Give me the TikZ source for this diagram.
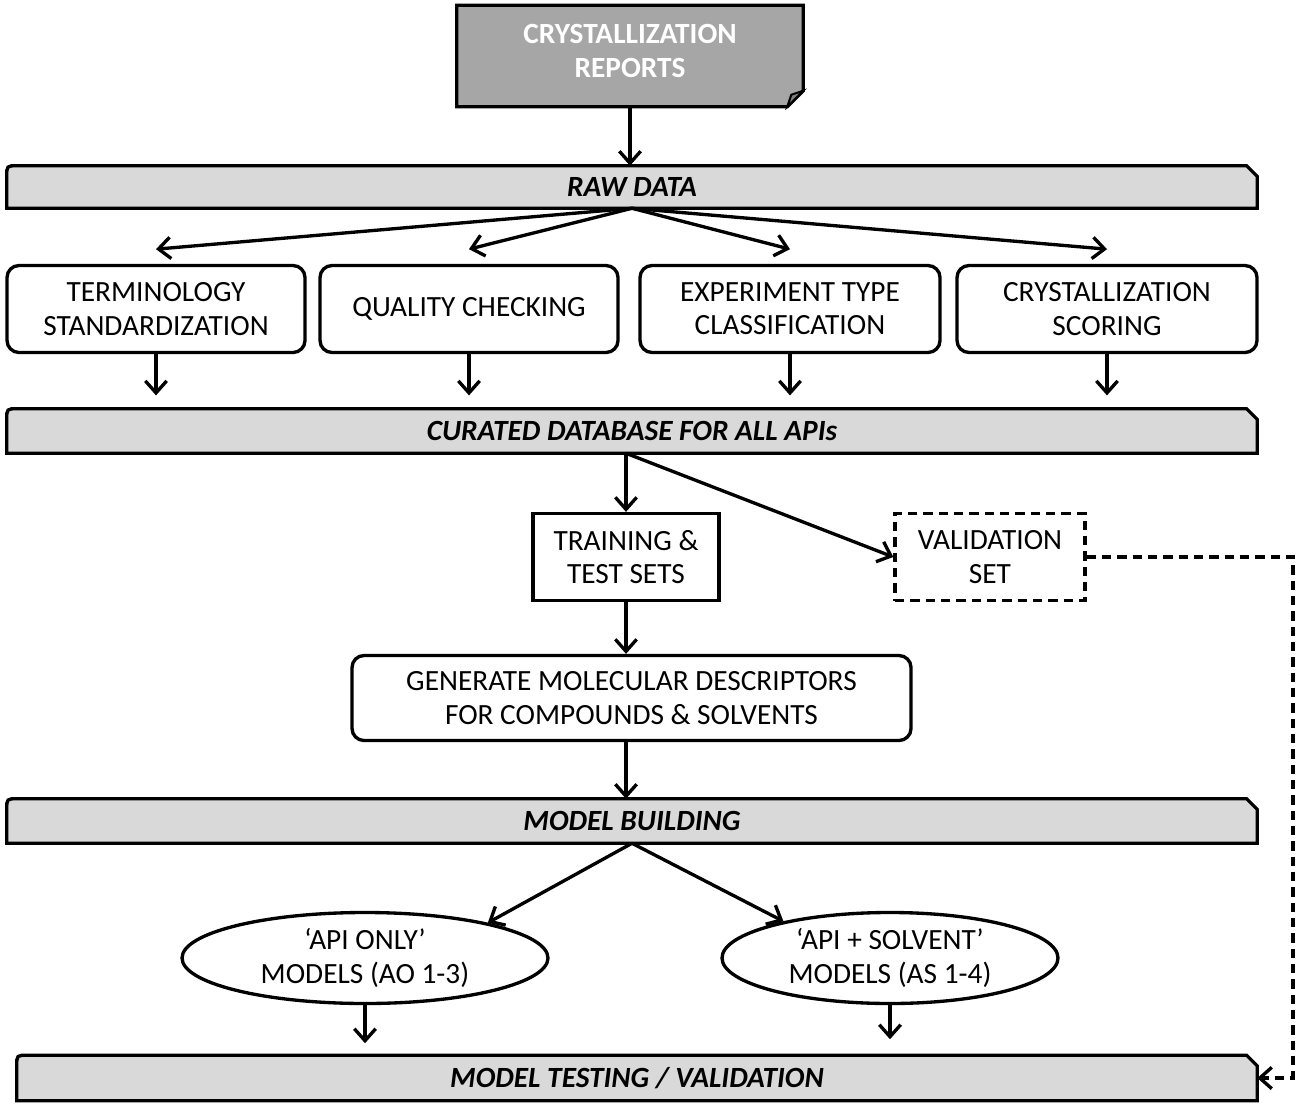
\documentclass[tikz,border=0pt]{standalone}
\usepackage{fontspec}
\setmainfont{Carlito}
\usetikzlibrary{arrows.meta,shapes.geometric,backgrounds,calc}
\definecolor{barfill}{HTML}{D9D9D9}
\definecolor{docfill}{HTML}{A6A6A6}
\definecolor{flapfill}{HTML}{808080}
\tikzset{
  base/.style={font=\fontsize{22}{25}\selectfont, align=center, inner sep=0pt},
  rbox/.style={base, draw, line width=2.5pt, rounded corners=9pt},
  sbox/.style={base, draw, line width=2.5pt},
  dbox/.style={base, draw, line width=2.5pt, dash pattern=on 7pt off 4.5pt},
  ell/.style={base, draw, line width=2.5pt, ellipse},
  barnode/.style={base, font=\fontsize{22}{25}\selectfont\bfseries\itshape},
  docnode/.style={base, font=\fontsize{22}{25}\selectfont\bfseries, text=white},
  barline/.style={draw, line width=2.5pt, fill=barfill, line join=miter},
  conn/.style={line width=2.5pt, -{Straight Barb[length=9pt,width=16pt]}},
  dconn/.style={conn, dash pattern=on 7pt off 4.5pt},
}
\newcommand{\barshape}[1]{%
  \path[barline] (#1.south west) -- ([yshift=-8pt]#1.north west)
    .. controls (#1.north west) .. ([xshift=8pt]#1.north west)
    -- ([xshift=-8pt]#1.north east) -- ([yshift=-8pt]#1.north east)
    -- (#1.south east) -- cycle;}
\begin{document}
\begin{tikzpicture}[x=0.75pt,y=-0.75pt]
\useasboundingbox (0,0) rectangle (1306,1106);

% top document
\node[docnode, minimum width=259.5pt, minimum height=68.25pt] (doc) at (630,51) {CRYSTALLIZATION\\REPORTS};

% bars
\node[barnode, minimum width=937.5pt, minimum height=31.5pt] (raw) at (632,187) {RAW DATA};
\node[barnode, minimum width=937.5pt, minimum height=33pt] (cur) at (632,431) {CURATED DATABASE FOR ALL APIs};
\node[barnode, minimum width=937.5pt, minimum height=33pt] (mb) at (632,821) {MODEL BUILDING};
\node[barnode, minimum width=930pt, minimum height=33.75pt] (test) at (637,1078) {MODEL TESTING / VALIDATION};

\begin{scope}[on background layer]
  \path[draw, line width=2.5pt, fill=docfill, line join=miter]
    (doc.north west) -- (doc.north east) -- ([yshift=4.5pt]doc.south east)
    -- ([xshift=-12pt,yshift=-7.5pt]doc.south east) -- ([yshift=-7.5pt]doc.south west) -- cycle;
  \path[draw, line width=1.5pt, fill=flapfill]
    ([yshift=4.5pt]doc.south east) -- ([xshift=-12pt,yshift=-7.5pt]doc.south east)
    -- ([xshift=-9pt,yshift=1.5pt]doc.south east) -- cycle;
  \barshape{raw}
  \barshape{cur}
  \barshape{mb}
  \barshape{test}
\end{scope}

% four process boxes
\node[rbox, minimum width=223.5pt, minimum height=65.25pt] (b1) at (156,309) {TERMINOLOGY\\STANDARDIZATION};
\node[rbox, minimum width=223.5pt, minimum height=65.25pt] (b2) at (469,309) {QUALITY CHECKING};
\node[rbox, minimum width=225pt, minimum height=65.25pt] (b3) at (790,309) {EXPERIMENT TYPE\\CLASSIFICATION};
\node[rbox, minimum width=225pt, minimum height=65.25pt] (b4) at (1107,309) {CRYSTALLIZATION\\SCORING};

% training / validation
\node[sbox, minimum width=139.5pt, minimum height=65.25pt] (train) at (626,557) {TRAINING \&\\TEST SETS};
\node[dbox, minimum width=142.5pt, minimum height=65.25pt] (val) at (990,557) {VALIDATION\\SET};

% descriptors
\node[rbox, minimum width=419.25pt, minimum height=63.75pt] (gen) at (631.5,698) {GENERATE MOLECULAR DESCRIPTORS\\FOR COMPOUNDS \& SOLVENTS};

% ellipses
\node[ell, minimum width=274.5pt, minimum height=68.25pt] (e1) at (365,958) {‘API ONLY’\\MODELS (AO 1-3)};
\node[ell, minimum width=252pt, minimum height=68.25pt] (e2) at (890,958) {‘API + SOLVENT’\\MODELS (AS 1-4)};

\coordinate (dashx) at (1293,0);

% connectors
\draw[conn] (doc.south) ++(0,10) -- (doc.south |- raw.north);
\foreach \b in {b1,b2,b3,b4}{
  \draw[conn] (raw.south) -- ([yshift=11pt]\b.north);
  \draw[conn, shorten >=10pt] (\b.south) -- (\b.south |- cur.north);
}
\draw[conn] (train.north |- cur.south) -- (train.north);
\draw[conn] (train.north |- cur.south) -- (val.west);
\draw[conn] (train.south) -- (train.south |- gen.north);
\draw[conn] (train.south |- gen.south) -- (train.south |- mb.north);
\draw[conn] (mb.south) -- (e1.16);
\draw[conn] (mb.south) -- (e2.161);
\draw[conn, shorten >=9pt] (e1.south) -- (e1.south |- test.north);
\draw[conn, shorten >=12pt] (e2.south) -- (e2.south |- test.north);
\draw[dconn] (val.east) -| (dashx |- test.east) -- (test.east);
\end{tikzpicture}
\end{document}
